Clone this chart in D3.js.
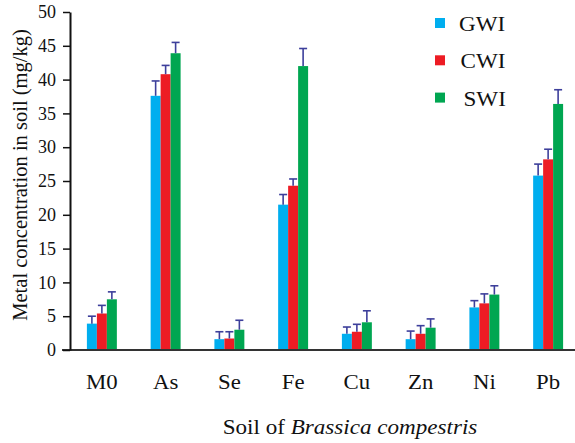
<!DOCTYPE html>
<html>
<head>
<meta charset="utf-8">
<script src="https://cdn.jsdelivr.net/npm/d3@7"></script>
<style>
  body { margin: 0; background: #fff; }
  text { font-family: "Liberation Serif", "Times New Roman", serif; }
</style>
</head>
<body>
<div id="chart"></div>
<script>
// data
var metals = ["M0", "As", "Se", "Fe", "Cu", "Zn", "Ni", "Pb"];
var seriesNames = ["GWI", "CWI", "SWI"];
var gwi = [3.9, 37.6, 1.6, 21.5, 2.4, 1.6, 6.3, 25.8];
var cwi = [5.4, 40.8, 1.7, 24.3, 2.7, 2.4, 6.9, 28.2];
var swi = [7.5, 43.9, 3.0, 42.0, 4.1, 3.3, 8.2, 36.4];
var gwiErr = [1.1, 2.2, 1.1, 1.5, 1.0, 1.2, 1.0, 1.7];
var cwiErr = [1.2, 1.3, 1.0, 1.0, 1.1, 1.2, 1.4, 1.5];
var swiErr = [1.1, 1.6, 1.4, 2.6, 1.7, 1.3, 1.3, 2.1];
var yTicks = [0, 5, 10, 15, 20, 25, 30, 35, 40, 45, 50];

var colors = ["#00aeef", "#ed1c24", "#00a651"];
var errColor = "#3d3f9b";

var svgWidth = 575;
var svgHeight = 443;
var margin = { top: 12, right: -5, bottom: 93, left: 70 };
var width = svgWidth - margin.left - margin.right;
var height = svgHeight - margin.top - margin.bottom;

// text in the source figure is a bit wider than Times
var stretch = 1.1;

var svg = d3.select("#chart")
  .append("svg")
  .attr("width", svgWidth)
  .attr("height", svgHeight);

var chartGroup = svg.append("g")
  .attr("transform", `translate(${margin.left}, ${margin.top})`);

// build rows for drawing
var values = [gwi, cwi, swi];
var errs = [gwiErr, cwiErr, swiErr];
var rows = [];
metals.forEach(function(m, i) {
  seriesNames.forEach(function(s, j) {
    rows.push({ metal: m, series: s, value: values[j][i], err: errs[j][i], idx: j });
  });
});

var xScale = d3.scaleBand()
  .domain(metals)
  .range([0, width])
  .paddingInner(0.53)
  .paddingOuter(0.265);

var xSub = d3.scaleBand()
  .domain(seriesNames)
  .range([0, xScale.bandwidth()]);

var yScale = d3.scaleLinear()
  .domain([0, 50])
  .range([height, 0]);

// bars
chartGroup.selectAll("rect.bar")
  .data(rows)
  .enter()
  .append("rect")
  .attr("class", "bar")
  .attr("x", d => xScale(d.metal) + xSub(d.series))
  .attr("y", d => yScale(d.value))
  .attr("width", xSub.bandwidth())
  .attr("height", d => height - yScale(d.value))
  .attr("fill", d => colors[d.idx]);

// error bars (upper only)
var errGroup = chartGroup.selectAll("g.err")
  .data(rows)
  .enter()
  .append("g")
  .attr("class", "err")
  .attr("stroke", errColor)
  .attr("stroke-width", 1.6);

errGroup.append("line")
  .attr("x1", d => xScale(d.metal) + xSub(d.series) + xSub.bandwidth() / 2)
  .attr("x2", d => xScale(d.metal) + xSub(d.series) + xSub.bandwidth() / 2)
  .attr("y1", d => yScale(d.value))
  .attr("y2", d => yScale(d.value + d.err));

errGroup.append("line")
  .attr("x1", d => xScale(d.metal) + xSub(d.series) + xSub.bandwidth() / 2 - 4)
  .attr("x2", d => xScale(d.metal) + xSub(d.series) + xSub.bandwidth() / 2 + 4)
  .attr("y1", d => yScale(d.value + d.err))
  .attr("y2", d => yScale(d.value + d.err));

// x axis line
chartGroup.append("line")
  .attr("x1", -8)
  .attr("x2", width)
  .attr("y1", height)
  .attr("y2", height)
  .attr("stroke", "#333")
  .attr("stroke-width", 2);

// y axis
var leftAxis = d3.axisLeft(yScale)
  .tickValues(yTicks)
  .tickSize(7)
  .tickSizeOuter(0)
  .tickPadding(7);

var yAxis = chartGroup.append("g").call(leftAxis);
yAxis.select(".domain").attr("stroke", "#111").attr("stroke-width", 2);
yAxis.selectAll(".tick line").attr("stroke", "#111").attr("stroke-width", 1.5);
yAxis.selectAll(".tick text")
  .attr("font-size", "18px")
  .attr("font-family", "Liberation Serif")
  .attr("fill", "#111");

// x category labels
chartGroup.selectAll("text.cat")
  .data(metals)
  .enter()
  .append("text")
  .attr("class", "cat")
  .attr("transform", d => `translate(${xScale(d) + xScale.bandwidth() / 2}, ${height + 39}) scale(${stretch + 0.04}, 1)`)
  .attr("text-anchor", "middle")
  .attr("font-size", "20px")
  .attr("fill", "#111")
  .text(d => d);

// x axis title
var xTitle = svg.append("text")
  .attr("transform", `translate(350, 434) scale(${stretch}, 1)`)
  .attr("text-anchor", "middle")
  .attr("font-size", "21px")
  .attr("fill", "#111");
xTitle.append("tspan").text("Soil of ");
xTitle.append("tspan").attr("font-style", "italic").text("Brassica compestris");

// y axis title
svg.append("text")
  .attr("transform", "translate(27, 175) rotate(-90)")
  .attr("text-anchor", "middle")
  .attr("font-size", "20.5px")
  .attr("fill", "#111")
  .text("Metal concentration in soil (mg/kg)");

// legend
var legend = svg.append("g")
  .attr("transform", "translate(435, 23)");

var legendItems = legend.selectAll("g")
  .data(seriesNames)
  .enter()
  .append("g")
  .attr("transform", (d, i) => `translate(0, ${i * 37.3})`);

legendItems.append("rect")
  .attr("x", 0)
  .attr("y", -5)
  .attr("width", 10)
  .attr("height", 10)
  .attr("fill", (d, i) => colors[i]);

var legendTextX = [24, 25.5, 28.5];
legendItems.append("text")
  .attr("transform", (d, i) => `translate(${legendTextX[i]}, 8) scale(${stretch}, 1)`)
  .attr("font-size", "21px")
  .attr("fill", "#111")
  .text(d => d);
</script>
</body>
</html>
